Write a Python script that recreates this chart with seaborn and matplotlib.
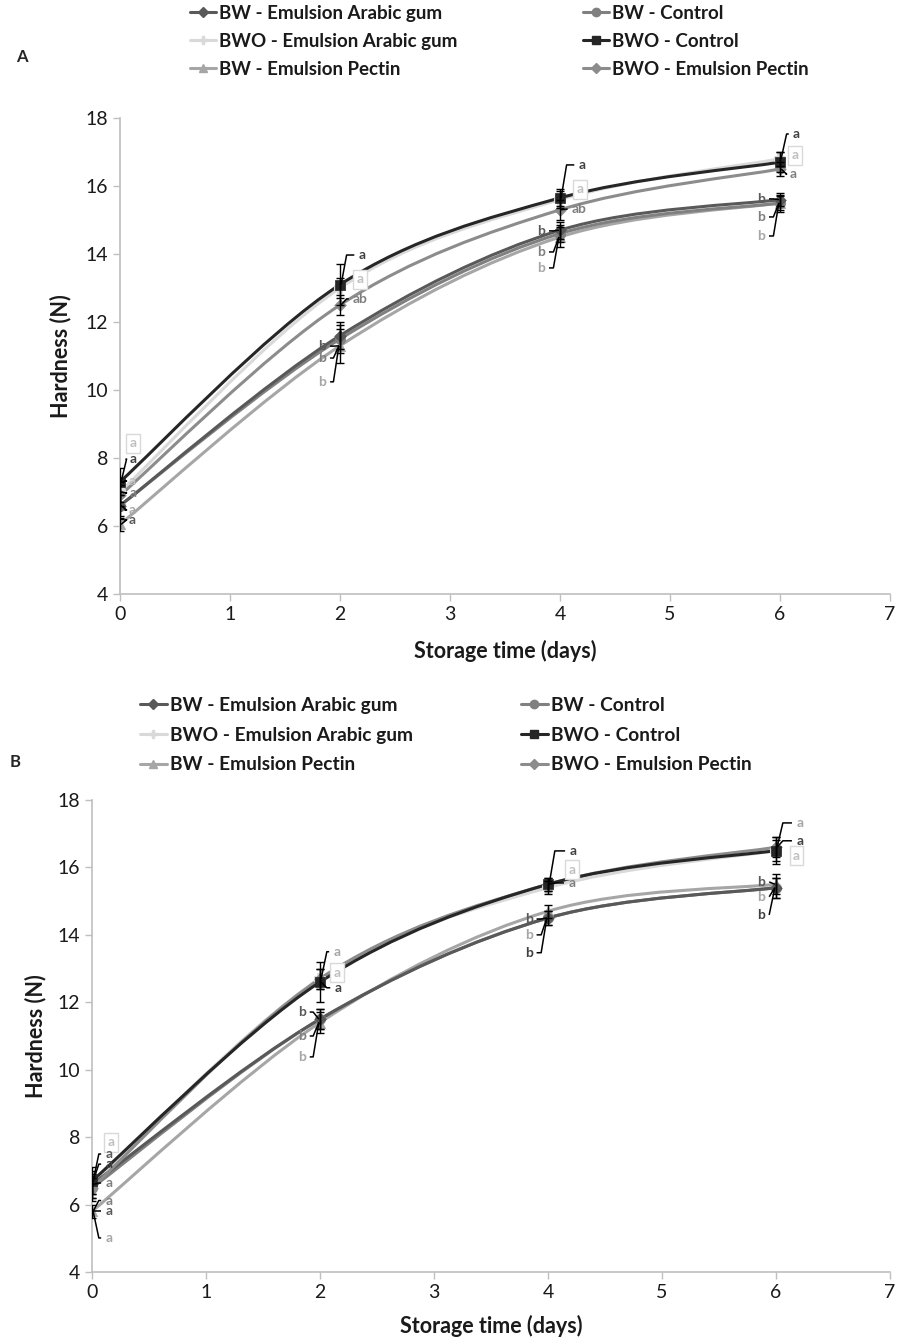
import numpy as np
import pandas as pd
import matplotlib
matplotlib.use("Agg")
import matplotlib.pyplot as plt
from matplotlib.path import Path
from matplotlib.patches import PathPatch
from matplotlib.lines import Line2D
import seaborn as sns

sns.set_theme(style="white")
plt.rcParams['font.family'] = ['Lato', 'DejaVu Sans']

days = [0, 2, 4, 6]
series = ["BW - Emulsion Arabic gum", "BWO - Emulsion Arabic gum", "BW - Emulsion Pectin",
          "BW - Control", "BWO - Control", "BWO - Emulsion Pectin"]

# Panel A values (N)
a_bw_ag = [6.6, 11.6, 14.7, 15.6]
a_bwo_ag = [7.0, 13.0, 15.6, 16.8]
a_bw_pec = [6.05, 11.3, 14.5, 15.5]
a_bw_ctl = [6.6, 11.5, 14.6, 15.5]
a_bwo_ctl = [7.3, 13.1, 15.65, 16.7]
a_bwo_pec = [6.9, 12.5, 15.3, 16.5]
# Panel A error bars
a_err_bw_ag = [0.3, 0.4, 0.25, 0.2]
a_err_bwo_ag = [0.3, 0.3, 0.25, 0.2]
a_err_bw_pec = [0.2, 0.5, 0.3, 0.2]
a_err_bw_ctl = [0.4, 0.4, 0.25, 0.25]
a_err_bwo_ctl = [0.4, 0.6, 0.25, 0.3]
a_err_bwo_pec = [0.3, 0.3, 0.3, 0.2]

# Panel B values (N)
b_bw_ag = [6.6, 11.5, 14.5, 15.4]
b_bwo_ag = [6.6, 12.7, 15.4, 16.5]
b_bw_pec = [5.8, 11.4, 14.7, 15.5]
b_bw_ctl = [6.5, 11.5, 14.5, 15.4]
b_bwo_ctl = [6.7, 12.6, 15.5, 16.5]
b_bwo_pec = [6.5, 12.7, 15.5, 16.6]
b_err_bw_ag = [0.4, 0.3, 0.2, 0.3]
b_err_bwo_ag = [0.3, 0.3, 0.2, 0.3]
b_err_bw_pec = [0.2, 0.3, 0.2, 0.3]
b_err_bw_ctl = [0.4, 0.3, 0.2, 0.3]
b_err_bwo_ctl = [0.4, 0.6, 0.2, 0.4]
b_err_bwo_pec = [0.3, 0.3, 0.2, 0.3]

colors = {"BW - Emulsion Arabic gum": "#595959", "BWO - Emulsion Arabic gum": "#d9d9d9",
          "BW - Emulsion Pectin": "#a6a6a6", "BW - Control": "#808080",
          "BWO - Control": "#262626", "BWO - Emulsion Pectin": "#8c8c8c"}
markers = {"BW - Emulsion Arabic gum": "D", "BWO - Emulsion Arabic gum": "P",
           "BW - Emulsion Pectin": "^", "BW - Control": "o",
           "BWO - Control": "s", "BWO - Emulsion Pectin": "D"}
msizes = {"BW - Emulsion Arabic gum": 35, "BWO - Emulsion Arabic gum": 45,
          "BW - Emulsion Pectin": 55, "BW - Control": 55,
          "BWO - Control": 55, "BWO - Emulsion Pectin": 35}

# Letter annotations: (day, y, text, shade, boxed)
ann_a = [(0.12, 8.44, "a", "#bfbfbf", True), (0.12, 7.97, "a", "#404040", False),
         (0.11, 7.32, "a", "#bfbfbf", False), (0.12, 6.97, "a", "#7f7f7f", False),
         (0.11, 6.47, "a", "#a6a6a6", False), (0.11, 6.18, "a", "#595959", False),
         (2.2, 13.97, "a", "#404040", False), (2.18, 13.26, "a", "#bfbfbf", True),
         (2.18, 12.68, "ab", "#7f7f7f", False), (1.84, 11.29, "b", "#595959", False),
         (1.84, 10.94, "b", "#7f7f7f", False), (1.84, 10.24, "b", "#a6a6a6", False),
         (4.2, 16.62, "a", "#404040", False), (4.18, 15.91, "a", "#bfbfbf", True),
         (4.17, 15.32, "ab", "#7f7f7f", False), (3.83, 14.68, "b", "#595959", False),
         (3.83, 14.06, "b", "#7f7f7f", False), (3.83, 13.59, "b", "#a6a6a6", False),
         (6.15, 17.53, "a", "#404040", False), (6.14, 16.91, "a", "#bfbfbf", True),
         (6.12, 16.35, "a", "#7f7f7f", False), (5.83, 15.62, "b", "#595959", False),
         (5.83, 15.09, "b", "#7f7f7f", False), (5.83, 14.53, "b", "#a6a6a6", False)]
ann_b = [(0.17, 7.85, "a", "#bfbfbf", True), (0.15, 7.5, "a", "#595959", False),
         (0.15, 7.2, "a", "#404040", False), (0.15, 6.64, "a", "#7f7f7f", False),
         (0.15, 6.12, "a", "#7f7f7f", False), (0.15, 5.8, "a", "#595959", False),
         (0.15, 5.01, "a", "#a6a6a6", False),
         (2.15, 13.5, "a", "#a6a6a6", False), (2.15, 12.87, "a", "#bfbfbf", True),
         (2.16, 12.43, "a", "#404040", False), (1.84, 11.71, "b", "#595959", False),
         (1.84, 11.0, "b", "#7f7f7f", False), (1.84, 10.38, "b", "#a6a6a6", False),
         (4.22, 16.49, "a", "#404040", False), (4.21, 15.93, "a", "#bfbfbf", True),
         (4.21, 15.54, "a", "#7f7f7f", False), (3.83, 14.47, "b", "#595959", False),
         (3.83, 14.0, "b", "#a6a6a6", False), (3.83, 13.47, "b", "#404040", False),
         (6.21, 17.32, "a", "#a6a6a6", False), (6.21, 16.79, "a", "#404040", False),
         (6.18, 16.34, "a", "#bfbfbf", True), (5.87, 15.57, "b", "#595959", False),
         (5.87, 15.13, "b", "#a6a6a6", False), (5.87, 14.59, "b", "#404040", False)]

panel_a = dict(zip(series, [a_bw_ag, a_bwo_ag, a_bw_pec, a_bw_ctl, a_bwo_ctl, a_bwo_pec]))
panel_a_err = dict(zip(series, [a_err_bw_ag, a_err_bwo_ag, a_err_bw_pec, a_err_bw_ctl, a_err_bwo_ctl, a_err_bwo_pec]))
panel_b = dict(zip(series, [b_bw_ag, b_bwo_ag, b_bw_pec, b_bw_ctl, b_bwo_ctl, b_bwo_pec]))
panel_b_err = dict(zip(series, [b_err_bw_ag, b_err_bwo_ag, b_err_bw_pec, b_err_bw_ctl, b_err_bwo_ctl, b_err_bwo_pec]))

draw_order = ["BW - Emulsion Pectin", "BWO - Emulsion Arabic gum", "BW - Control",
              "BW - Emulsion Arabic gum", "BWO - Emulsion Pectin", "BWO - Control"]


def smooth_path(x, y):
    # Excel-style smoothed line (Catmull-Rom as cubic Bezier)
    pts = np.column_stack([x, y]).astype(float)
    n = len(pts)
    verts = [pts[0]]
    codes = [Path.MOVETO]
    for i in range(n - 1):
        p0 = pts[i - 1] if i > 0 else pts[i]
        p1, p2 = pts[i], pts[i + 1]
        p3 = pts[i + 2] if i + 2 < n else pts[i + 1]
        c1 = p1 + (p2 - p0) / 6.0
        c2 = p2 - (p3 - p1) / 6.0
        verts += [c1, c2, p2]
        codes += [Path.CURVE4] * 3
    return Path(verts, codes)


def draw_panel(ax, data, errs, anns):
    rows = []
    for s in series:
        for d, v in zip(days, data[s]):
            rows.append({"day": d, "hardness": v, "series": s})
    df = pd.DataFrame(rows)
    for s in draw_order:
        ax.add_patch(PathPatch(smooth_path(days, data[s]), fill=False, edgecolor=colors[s],
                               lw=2.2, zorder=2, capstyle='round'))
    for s in draw_order:
        ax.errorbar(days, data[s], yerr=errs[s], fmt='none', ecolor='black', elinewidth=1.0,
                    capsize=3, capthick=1.0, zorder=4)
    for s in draw_order:
        sub = df[df.series == s]
        sns.scatterplot(data=sub, x="day", y="hardness", marker=markers[s], color=colors[s],
                        s=msizes[s], edgecolor=colors[s], linewidth=1.5 if markers[s] == "P" else 0.5,
                        ax=ax, legend=False, zorder=3)
    for (x, y, t, c, boxed) in anns:
        kw = dict(fontsize=10, fontweight='bold', color=c, ha='center', va='center', zorder=5)
        if boxed:
            kw['bbox'] = dict(boxstyle='square,pad=0.25', fc='white', ec='#d9d9d9', lw=1)
        ax.text(x, y, t, **kw)
        if not boxed:
            d0 = min(days, key=lambda d: abs(d - x))
            vals = [data[s][days.index(d0)] for s in series]
            yp = min(vals, key=lambda v: abs(v - y))
            sgn = 1 if x > d0 else -1
            half = 0.05 + 0.03 * (len(t) - 1)
            lx = x - sgn * (half + 0.02)
            ax.plot([lx, d0 + sgn * 0.06, d0 + sgn * 0.01], [y, y, yp],
                    color='black', lw=1.1, zorder=4, solid_capstyle='butt')
    ax.set_xlim(0, 7)
    ax.set_ylim(4, 18)
    ax.set_xticks(range(0, 8))
    ax.set_yticks(range(4, 19, 2))
    for sp in ['top', 'right']:
        ax.spines[sp].set_visible(False)
    for sp in ['left', 'bottom']:
        ax.spines[sp].set_color('#bfbfbf')
        ax.spines[sp].set_linewidth(1.2)
    ax.tick_params(axis='both', which='both', direction='out', length=5, width=1,
                   color='#bfbfbf', labelsize=14, labelcolor='#1a1a1a', left=True, bottom=True)
    ax.set_xlabel("Storage time (days)", fontsize=15.5, fontweight='bold', color='#1a1a1a')
    ax.set_ylabel("Hardness (N)", fontsize=15.5, fontweight='bold', color='#1a1a1a')


W, H = 903, 1339
fig = plt.figure(figsize=(W / 100, H / 100), dpi=100)
axA = fig.add_axes([120 / W, 1 - 594 / H, 770 / W, 476 / H])
axB = fig.add_axes([92 / W, 1 - 1272 / H, 798 / W, 472 / H])
draw_panel(axA, panel_a, panel_a_err, ann_a)
draw_panel(axB, panel_b, panel_b_err, ann_b)
axA.xaxis.labelpad = 12
axB.xaxis.labelpad = 10
axA.yaxis.labelpad = 10
axB.yaxis.labelpad = 8


def handle(s):
    return Line2D([], [], color=colors[s], lw=2.2, marker=markers[s],
                  markersize=6 if markers[s] != "D" else 5, markerfacecolor=colors[s],
                  markeredgecolor=colors[s])


def add_legends(x1, x2, ytop, spacing_px, fs):
    col1 = series[:3]
    col2 = series[3:]
    ls = spacing_px / (fs * 100 / 72) - 1.0
    for cols, x in ((col1, x1), (col2, x2)):
        leg = fig.legend([handle(s) for s in cols], cols, loc='upper left',
                         bbox_to_anchor=(x / W, 1 - ytop / H), frameon=False,
                         borderpad=0, borderaxespad=0, handlelength=1.4, handletextpad=0.15,
                         labelspacing=ls, prop=dict(family=['Lato', 'DejaVu Sans'], weight='bold', size=fs))
        for t in leg.get_texts():
            t.set_color('#1a1a1a')


add_legends(190, 583, 5, 29.6, 13.5)
add_legends(140, 521, 697, 31.8, 13.8)

fig.text(22 / W, 1 - 57 / H, "A", fontsize=12, fontweight='bold', ha='center', va='center')
fig.text(15 / W, 1 - 762 / H, "B", fontsize=12, fontweight='bold', ha='center', va='center')

fig.savefig("out.png", dpi=100)
